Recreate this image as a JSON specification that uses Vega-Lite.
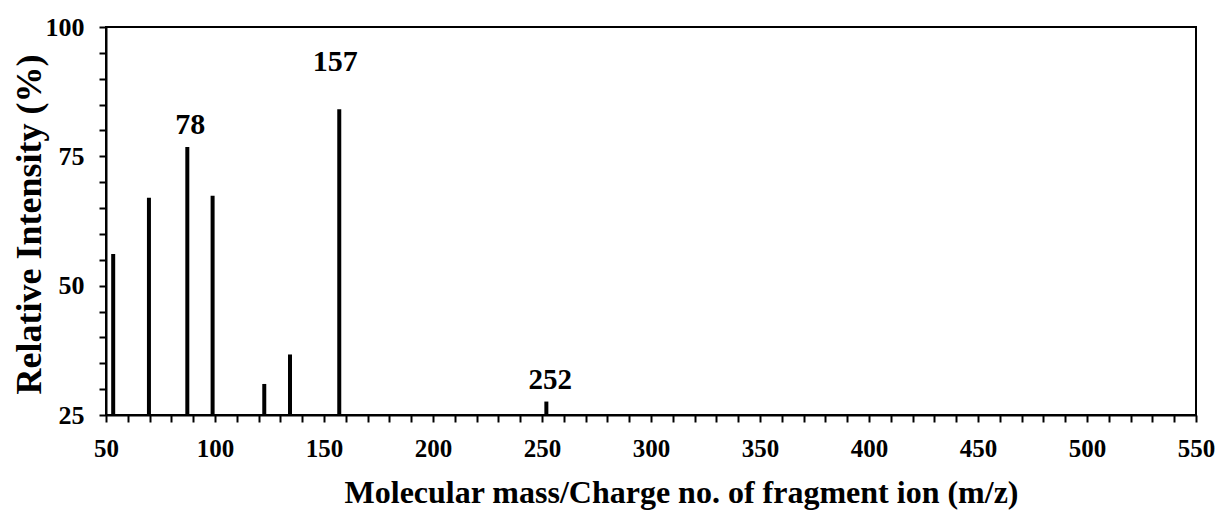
{
  "$schema": "https://vega.github.io/schema/vega-lite/v6.json",
  "width": 1090,
  "height": 388,
  "autosize": "none",
  "padding": {"left": 106, "top": 27, "right": 24, "bottom": 95},
  "background": "white",
  "config": {
    "view": {"stroke": "black", "strokeWidth": 2},
    "font": "Liberation Serif",
    "axis": {
      "domainColor": "black",
      "domainWidth": 2,
      "tickColor": "black",
      "tickWidth": 2,
      "tickSize": 7,
      "grid": false,
      "labelFont": "Liberation Serif",
      "labelFontWeight": "bold",
      "labelColor": "black",
      "labelOverlap": false,
      "labelFlush": false,
      "titleFont": "Liberation Serif",
      "titleFontWeight": "bold",
      "titleColor": "black"
    }
  },
  "data": {
    "values": [
      {"mz": 53.3, "intensity": 56.1, "label": ""},
      {"mz": 69.7, "intensity": 67.0, "label": ""},
      {"mz": 87.3, "intensity": 76.8, "label": "78"},
      {"mz": 98.9, "intensity": 67.4, "label": ""},
      {"mz": 122.6, "intensity": 31.0, "label": ""},
      {"mz": 134.4, "intensity": 36.7, "label": ""},
      {"mz": 157, "intensity": 84.1, "label": "157"},
      {"mz": 252, "intensity": 27.6, "label": "252"}
    ]
  },
  "encoding": {
    "x": {
      "field": "mz",
      "type": "quantitative",
      "scale": {"domain": [50, 550], "nice": false, "zero": false},
      "axis": {
        "title": "Molecular mass/Charge no. of fragment ion (m/z)",
        "titleFontSize": 32,
        "titleX": 575,
        "titleY": 87,
        "titleAlign": "center",
        "titleBaseline": "alphabetic",
        "labelFontSize": 25,
        "values": [50, 60, 70, 80, 90, 100, 110, 120, 130, 140, 150, 160, 170, 180, 190, 200, 210, 220, 230, 240, 250, 260, 270, 280, 290, 300, 310, 320, 330, 340, 350, 360, 370, 380, 390, 400, 410, 420, 430, 440, 450, 460, 470, 480, 490, 500, 510, 520, 530, 540, 550],
        "labelExpr": "datum.value % 50 === 0 ? datum.label : ''",
        "labelPadding": 14
      }
    },
    "y": {
      "field": "intensity",
      "type": "quantitative",
      "scale": {"domain": [25, 100], "nice": false, "zero": false},
      "axis": {
        "title": "Relative Intensity (%)",
        "titleFontSize": 36,
        "titleX": -66,
        "titleY": 197,
        "titleAngle": -90,
        "titleAlign": "center",
        "titleBaseline": "alphabetic",
        "labelFontSize": 26,
        "values": [25, 30, 35, 40, 45, 50, 55, 60, 65, 70, 75, 80, 85, 90, 95, 100],
        "labelExpr": "datum.value % 25 === 0 ? datum.label : ''",
        "labelPadding": 15
      }
    }
  },
  "layer": [
    {
      "mark": {"type": "rule", "color": "black", "strokeWidth": 4},
      "encoding": {"y2": {"datum": 25}}
    },
    {
      "transform": [{"filter": "datum.label === '78'"}],
      "mark": {"type": "text", "fontSize": 30, "fontWeight": "bold", "font": "Liberation Serif", "baseline": "alphabetic", "dy": -13, "dx": 3, "color": "black"},
      "encoding": {"text": {"field": "label"}}
    },
    {
      "transform": [{"filter": "datum.label === '157'"}],
      "mark": {"type": "text", "fontSize": 30, "fontWeight": "bold", "font": "Liberation Serif", "baseline": "alphabetic", "dy": -38, "dx": -4, "color": "black"},
      "encoding": {"text": {"field": "label"}}
    },
    {
      "transform": [{"filter": "datum.label === '252'"}],
      "mark": {"type": "text", "fontSize": 29, "fontWeight": "bold", "font": "Liberation Serif", "baseline": "alphabetic", "dy": -13, "dx": 4, "color": "black"},
      "encoding": {"text": {"field": "label"}}
    }
  ]
}
